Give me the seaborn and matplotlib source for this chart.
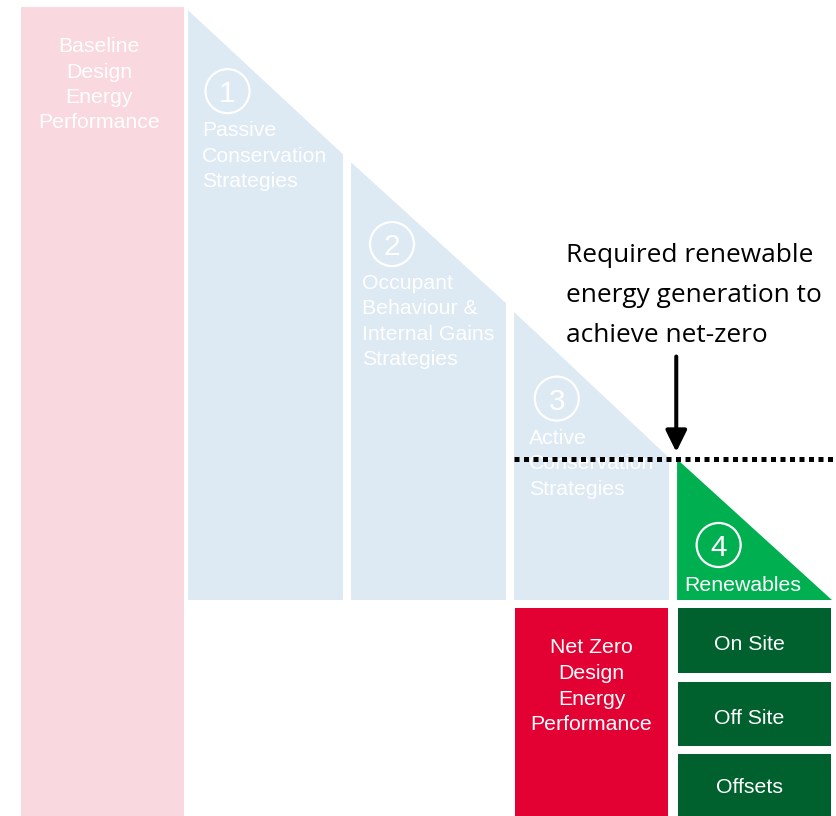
import matplotlib
matplotlib.use("Agg")
import matplotlib.pyplot as plt
import seaborn as sns

# ---- energy pathway data (energy units, baseline = 100) ----
stages = ["Baseline", "Passive", "Occupant", "Active", "Renewables"]
baseline_energy = 100.0
step_start = [99.6, 80.8, 62.3, 44.1]      # level at the left edge of each reduction step
step_end = [81.8, 63.4, 44.3, 26.7]        # level at the right edge of each reduction step
floor_level = 26.7
target_level = 44.1                        # level to reach with renewables
net_zero_energy = 25.7
offset_labels = ["On Site", "Off Site", "Offsets"]
offset_top = [25.7, 16.6, 7.7]
offset_bottom = [17.7, 8.6, 0.0]

baseline_label = ["Baseline", "Design", "Energy", "Performance"]
step_numbers = ["1", "2", "3", "4"]
step_labels = [
    ["Passive", "Conservation", "Strategies"],
    ["Occupant", "Behaviour &", "Internal Gains", "Strategies"],
    ["Active", "Conservation", "Strategies"],
    ["Renewables"],
]
net_zero_label = ["Net Zero", "Design", "Energy", "Performance"]
callout = ["Required renewable", "energy generation to", "achieve net-zero"]

# ---- colours ----
PINK = "#F9D8DF"
BLUE = "#DDE9F3"
GREEN = "#00AF50"
DARK_GREEN = "#00602E"
RED = "#E30033"

sns.set_theme(style="white")
plt.rcParams["font.family"] = ["Liberation Sans", "DejaVu Sans"]

fig = plt.figure(figsize=(8.37, 8.16), dpi=100)
ax = fig.add_axes([0, 0, 1, 1])

col_w = 0.95
# baseline and net-zero bars
sns.barplot(x=[stages[0]], y=[baseline_energy], order=stages, color=PINK,
            saturation=1, width=1.0, errorbar=None, linewidth=0, ax=ax)
sns.barplot(x=[stages[3]], y=[net_zero_energy], order=stages, color=RED,
            saturation=1, width=0.94, errorbar=None, linewidth=0, ax=ax)

# reduction steps with sloped tops
for i, (s, e) in enumerate(zip(step_start, step_end), start=1):
    l, r = i - col_w / 2, i + col_w / 2
    if i < 4:
        ax.fill([l, l, r, r], [floor_level, s, e, floor_level], color=BLUE, lw=0, zorder=1)
    else:
        ax.fill([l, l, r], [floor_level, s, e], color=GREEN, lw=0, zorder=1)

# renewable sources stacked under the renewables step
ax.bar([4] * 3, [t - b for t, b in zip(offset_top, offset_bottom)], bottom=offset_bottom,
       width=0.94, color=DARK_GREEN, linewidth=0, zorder=1)

ax.set_xlim(-0.6288, 4.5061)
ax.set_ylim(0, 100.87)
ax.set_axis_off()

LINE_PT = 18.4


def stack(x, y, lines, ha="left", step=LINE_PT, **kw):
    for k, t in enumerate(lines):
        ax.annotate(t, xy=(x, y), xytext=(0, -k * step), textcoords="offset points",
                    ha=ha, va="baseline", **kw)


lab = dict(color="white", fontsize=15.3, zorder=3)
stack(-0.02, 94.4, baseline_label, ha="center", step=18.2, **lab)
stack(0.609, 84.05, step_labels[0], **lab)
stack(1.590, 65.2, step_labels[1], **lab)
stack(2.617, 46.0, step_labels[2], **lab)
stack(3.929, 27.85, step_labels[3], ha="center", **lab)
stack(3.0, 20.1, net_zero_label, ha="center", **lab)
for name, b in zip(offset_labels, [20.52, 11.37, 2.88]):
    ax.text(3.97, b, name, ha="center", va="baseline", **lab)

# numbered circles
circ_x = [0.767, 1.776, 2.787, 3.780]
circ_y = [89.6, 70.7, 51.6, 33.5]
ax.scatter(circ_x, circ_y, s=31.7 ** 2, facecolors="none", edgecolors="white",
           linewidths=1.6, zorder=3)
for cx, cy, n in zip(circ_x, circ_y, step_numbers):
    ax.text(cx, cy, n, ha="center", va="center_baseline", color="white",
            fontsize=21.5, zorder=4)

# net-zero target line and callout
ax.plot([3 - col_w / 2, 4.5061], [target_level, target_level], color="black",
        lw=3.6, linestyle=(0, (1, 0.9)), dash_capstyle="butt", zorder=5)
arrow_x = 4 - col_w / 2 - 0.005
ax.annotate("", xy=(arrow_x, 45.0), xytext=(arrow_x, 56.8),
            arrowprops=dict(arrowstyle="-|>,head_length=0.65,head_width=0.32",
                            mutation_scale=20, lw=2.9, color="black",
                            shrinkA=0, shrinkB=0), zorder=6)
stack(2.844, 68.48, callout, step=28.8, color="black", fontsize=18.9,
      family=["Open Sans", "DejaVu Sans"])

fig.savefig("out.png", dpi=100)
